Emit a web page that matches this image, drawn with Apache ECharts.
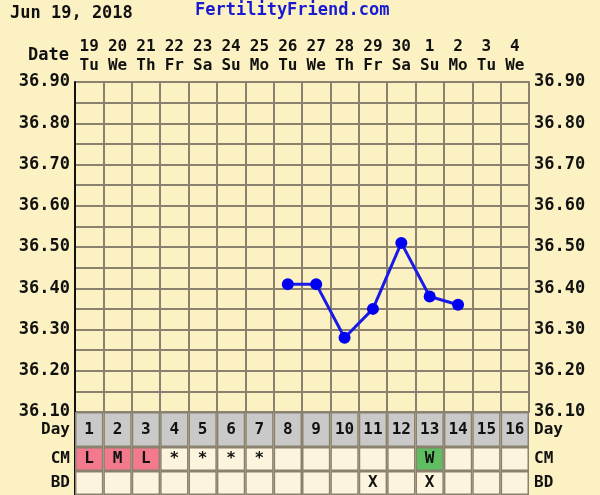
<!DOCTYPE html>
<html>
<head>
<meta charset="utf-8">
<script src="https://cdn.jsdelivr.net/npm/echarts@6/dist/echarts.min.js"></script>
<style>
  html, body { margin: 0; padding: 0; background: #fbf1c2; }
  #chart { width: 600px; height: 495px; }
</style>
</head>
<body>
<div id="chart"></div>
<script>
// chart data
const dates = ['19', '20', '21', '22', '23', '24', '25', '26', '27', '28', '29', '30', '1', '2', '3', '4'];
const weekdays = ['Tu', 'We', 'Th', 'Fr', 'Sa', 'Su', 'Mo', 'Tu', 'We', 'Th', 'Fr', 'Sa', 'Su', 'Mo', 'Tu', 'We'];
const cycleDays = ['1', '2', '3', '4', '5', '6', '7', '8', '9', '10', '11', '12', '13', '14', '15', '16'];
const temps = [null, null, null, null, null, null, null, 36.41, 36.41, 36.28, 36.35, 36.51, 36.38, 36.36, null, null];
const cm = ['L', 'M', 'L', '*', '*', '*', '*', '', '', '', '', '', 'W', '', '', ''];
const bd = ['', '', '', '', '', '', '', '', '', '', 'X', '', 'X', '', '', ''];

const FONT = '"DejaVu Sans Mono", monospace';
const gridColor = '#8a826e';
const cellColor = '#fdf4de';

const chart = echarts.init(document.getElementById('chart'));

function cmColor(v) {
  if (v === 'L' || v === 'M' || v === 'H') return '#f27a8c'; // flow
  if (v === 'W') return '#5fbd62';
  return cellColor;
}

// one row of table cells (bar series filling the whole row)
function rowSeries(idx, texts, colorFn) {
  return {
    type: 'bar',
    xAxisIndex: idx,
    yAxisIndex: idx * 2,
    barCategoryGap: '0%',
    silent: true,
    data: texts.map((t) => ({
      value: 1,
      name: t,
      itemStyle: { color: colorFn(t), borderColor: gridColor, borderWidth: 1.5 }
    })),
    label: {
      show: true,
      position: 'inside',
      formatter: (p) => p.name,
      color: '#111',
      fontFamily: FONT,
      fontWeight: 'bold',
      fontSize: 16
    }
  };
}

function rowYAxis(gridIndex, name, position) {
  return {
    type: 'value',
    gridIndex,
    position,
    min: 0,
    max: 1,
    interval: 0.5,
    splitLine: { show: false },
    axisTick: { show: false },
    axisLine: { show: position === 'left', lineStyle: { color: '#111', width: 2 } },
    axisLabel: {
      margin: 5,
      color: '#111',
      fontFamily: FONT,
      fontWeight: 'bold',
      fontSize: 16,
      formatter: (v) => (v === 0.5 ? name : '')
    }
  };
}

function rowXAxis(gridIndex) {
  return {
    type: 'category',
    gridIndex,
    data: cycleDays,
    show: false
  };
}

const tempLabel = {
  margin: 5,
  color: '#111',
  fontFamily: FONT,
  fontWeight: 'bold',
  fontSize: 17,
  formatter: (v) => (Math.round(v * 100) % 10 === 0 ? v.toFixed(2) : '')
};

const option = {
  backgroundColor: '#fbf1c2',
  animation: false,
  title: {
    text: 'Jun 19, 2018',
    left: 5,
    top: 0,
    textStyle: { fontFamily: FONT, fontWeight: 'bold', fontSize: 17, color: '#111' }
  },
  graphic: [
    {
      type: 'text',
      left: 195,
      top: 2,
      style: { text: 'FertilityFriend.com', font: 'bold 17px ' + FONT, fill: '#1a1ad0' }
    },
    {
      type: 'text',
      right: 531,
      top: 47,
      style: { text: 'Date', font: 'bold 17px ' + FONT, fill: '#111' }
    }
  ],
  grid: [
    { left: 75, right: 71, top: 82, height: 330 },
    { left: 75, right: 71, top: 412, height: 35 },
    { left: 75, right: 71, top: 447, height: 24 },
    { left: 75, right: 71, top: 471, height: 26 }
  ],
  xAxis: [
    {
      type: 'category',
      gridIndex: 0,
      position: 'top',
      data: dates,
      boundaryGap: true,
      axisTick: { show: false },
      axisLine: { show: false },
      splitLine: { show: true, lineStyle: { color: gridColor, width: 2 } },
      axisLabel: {
        interval: 0,
        margin: 7,
        lineHeight: 19,
        color: '#111',
        fontFamily: FONT,
        fontWeight: 'bold',
        fontSize: 16,
        formatter: (v, i) => v + '\n' + weekdays[i]
      }
    },
    rowXAxis(1),
    rowXAxis(2),
    rowXAxis(3)
  ],
  yAxis: [
    {
      type: 'value',
      gridIndex: 0,
      position: 'left',
      min: 36.1,
      max: 36.9,
      interval: 0.05,
      axisTick: { show: false },
      axisLine: { show: true, lineStyle: { color: '#111', width: 2 } },
      splitLine: { show: true, lineStyle: { color: gridColor, width: 2 } },
      axisLabel: tempLabel
    },
    {
      type: 'value',
      gridIndex: 0,
      position: 'right',
      min: 36.1,
      max: 36.9,
      interval: 0.05,
      axisTick: { show: false },
      axisLine: { show: true, lineStyle: { color: gridColor, width: 2 } },
      splitLine: { show: false },
      axisLabel: tempLabel
    },
    rowYAxis(1, 'Day', 'left'),
    rowYAxis(1, 'Day', 'right'),
    rowYAxis(2, 'CM', 'left'),
    rowYAxis(2, 'CM', 'right'),
    rowYAxis(3, 'BD', 'left'),
    rowYAxis(3, 'BD', 'right')
  ],
  series: [
    {
      type: 'line',
      xAxisIndex: 0,
      yAxisIndex: 0,
      data: temps,
      symbol: 'circle',
      symbolSize: 12,
      lineStyle: { color: '#1a1ae6', width: 3 },
      itemStyle: { color: '#0000f0' }
    },
    rowSeries(1, cycleDays, () => '#c9c9c9'),
    rowSeries(2, cm, cmColor),
    rowSeries(3, bd, () => cellColor)
  ]
};

chart.setOption(option);
</script>
</body>
</html>
